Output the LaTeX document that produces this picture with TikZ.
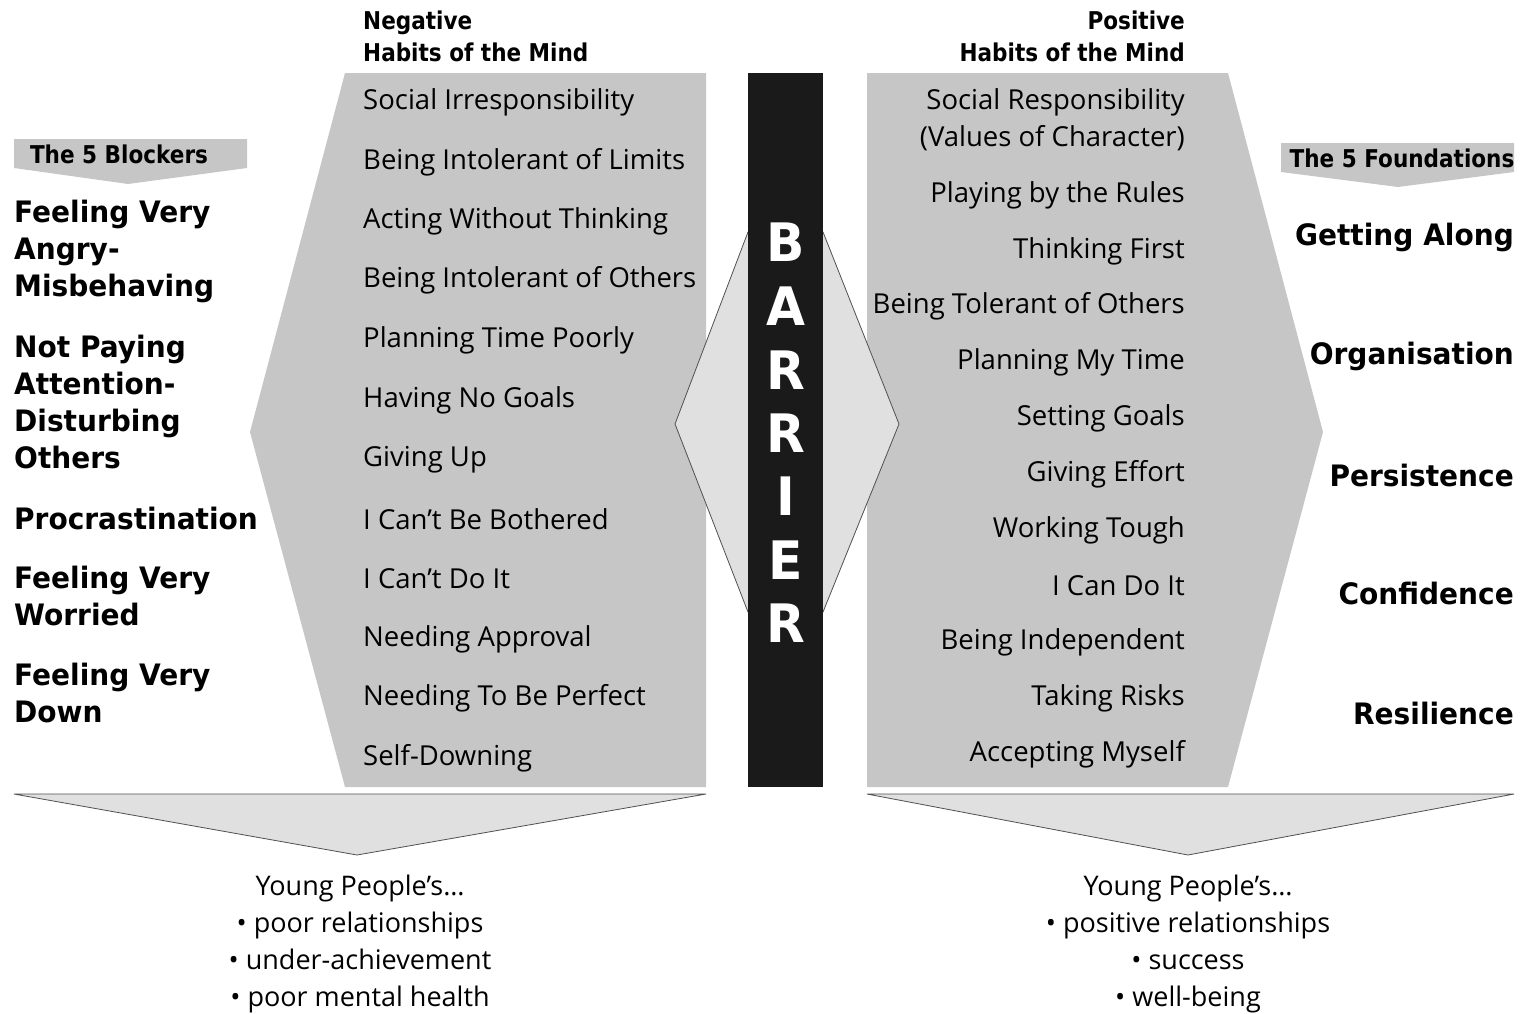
\documentclass[tikz,border=0pt]{standalone}
\usepackage{fontspec}
\setmainfont{Open Sans}
\newfontfamily\heavyfont{DejaVu Sans}[FakeStretch=0.95]
\newfontfamily\headfont{DejaVu Sans}[FakeStretch=0.88]
\usepackage{tikz}
\definecolor{panel}{HTML}{C6C6C6}
\definecolor{pale}{HTML}{E0E0E0}
\definecolor{wall}{HTML}{1A1A1A}
\definecolor{edge}{HTML}{505050}
\tikzset{
  habit/.style={inner sep=0pt, font=\fontsize{27.5}{37}\selectfont},
  blocker/.style={inner sep=0pt, align=left, anchor=west, font=\heavyfont\bfseries\fontsize{29.5}{37}\selectfont},
  found/.style={inner sep=0pt, anchor=east, font=\heavyfont\bfseries\fontsize{29.5}{37}\selectfont},
  head/.style={inner sep=0pt, font=\headfont\bfseries\fontsize{24.5}{32}\selectfont},
  wallLetter/.style={inner sep=0pt, text=white, font=\heavyfont\bfseries\fontsize{53}{53}\selectfont},
  outcome/.style={inner sep=0pt, align=center, font=\fontsize{27}{37}\selectfont},
  panelFill/.style={fill=panel, draw=none},
  paleFill/.style={fill=pale, draw=edge, line width=0.8pt}
}
\begin{document}
\begin{tikzpicture}[x=1pt,y=-1pt]
\useasboundingbox (0,0) rectangle (1522,1013);

\fill[panelFill] (345,73) -- (706,73) -- (706,787) -- (345,787) -- (250,432) -- cycle;
\fill[panelFill] (867,73) -- (1228,73) -- (1323,432) -- (1228,787) -- (867,787) -- cycle;
\draw[paleFill] (675,424) -- (748,232) -- (823,232) -- (899,424) -- (823,612) -- (748,612) -- cycle;
\fill[wall] (748,73) rectangle (823,787);

\fill[panelFill] (14,139) -- (247,139) -- (247,168) -- (128,184) -- (14,168) -- cycle;
\fill[panelFill] (1281,143) -- (1514,143) -- (1514,172) -- (1398,187) -- (1281,172) -- cycle;

\draw[paleFill] (14,794) -- (706,794) -- (357,855) -- cycle;
\draw[paleFill] (867,794) -- (1514,794) -- (1188,855) -- cycle;

\node[head, anchor=west, align=left] (negHead) at (363,36) {Negative\\Habits of the Mind};
\node[head, anchor=east, align=right] (posHead) at (1185,36) {Positive\\Habits of the Mind};
\node[head] (blockHead) at (119,154) {The 5 Blockers};
\node[head] (foundHead) at (1402,158) {The 5 Foundations};

\node[habit, anchor=west] (n1) at (363,102) {Social Irresponsibility};
\node[habit, anchor=west] (n2) at (363,162) {Being Intolerant of Limits};
\node[habit, anchor=west] (n3) at (363,221) {Acting Without Thinking};
\node[habit, anchor=west] (n4) at (363,280) {Being Intolerant of Others};
\node[habit, anchor=west] (n5) at (363,340) {Planning Time Poorly};
\node[habit, anchor=west] (n6) at (363,400) {Having No Goals};
\node[habit, anchor=west] (n7) at (363,460) {Giving Up};
\node[habit, anchor=west] (n8) at (363,519) {I Can’t Be Bothered};
\node[habit, anchor=west] (n9) at (363,579) {I Can’t Do It};
\node[habit, anchor=west] (n10) at (363,639) {Needing Approval};
\node[habit, anchor=west] (n11) at (363,698) {Needing To Be Perfect};
\node[habit, anchor=west] (n12) at (363,758) {Self-Downing};

\node[habit, anchor=east, align=right] (p1) at (1185,120) {Social Responsibility\\(Values of Character)};
\node[habit, anchor=east] (p2) at (1185,195) {Playing by the Rules};
\node[habit, anchor=east] (p3) at (1185,251) {Thinking First};
\node[habit, anchor=east] (p4) at (1185,306) {Being Tolerant of Others};
\node[habit, anchor=east] (p5) at (1185,362) {Planning My Time};
\node[habit, anchor=east] (p6) at (1185,418) {Setting Goals};
\node[habit, anchor=east] (p7) at (1185,474) {Giving Effort};
\node[habit, anchor=east] (p8) at (1185,530) {Working Tough};
\node[habit, anchor=east] (p9) at (1185,586) {I Can Do It};
\node[habit, anchor=east] (p10) at (1185,642) {Being Independent};
\node[habit, anchor=east] (p11) at (1185,698) {Taking Risks};
\node[habit, anchor=east] (p12) at (1185,754) {Accepting Myself};

\node[blocker] (b1) at (14,251) {Feeling Very\\Angry-\\Misbehaving};
\node[blocker] (b2) at (14,402) {Not Paying\\Attention-\\Disturbing\\Others};
\node[blocker] (b3) at (14,518) {Procrastination};
\node[blocker] (b4) at (14,596) {Feeling Very\\Worried};
\node[blocker] (b5) at (14,693) {Feeling Very\\Down};

\node[found] (f1) at (1514,237) {Getting Along};
\node[found] (f2) at (1514,356) {Organisation};
\node[found] (f3) at (1514,475) {Persistence};
\node[found] (f4) at (1514,593) {Confidence};
\node[found] (f5) at (1514,713) {Resilience};

\node[wallLetter] (w1) at (786,242) {B};
\node[wallLetter] (w2) at (786,306) {A};
\node[wallLetter] (w3) at (786,370) {R};
\node[wallLetter] (w4) at (786,433) {R};
\node[wallLetter] (w5) at (786,496) {I};
\node[wallLetter] (w6) at (786,560) {E};
\node[wallLetter] (w7) at (786,623) {R};

\node[outcome] (badOut) at (360,944) {Young People’s…\\• poor relationships\\• under-achievement\\• poor mental health};
\node[outcome] (goodOut) at (1188,944) {Young People’s…\\• positive relationships\\• success\\• well-being};
\end{tikzpicture}
\end{document}
